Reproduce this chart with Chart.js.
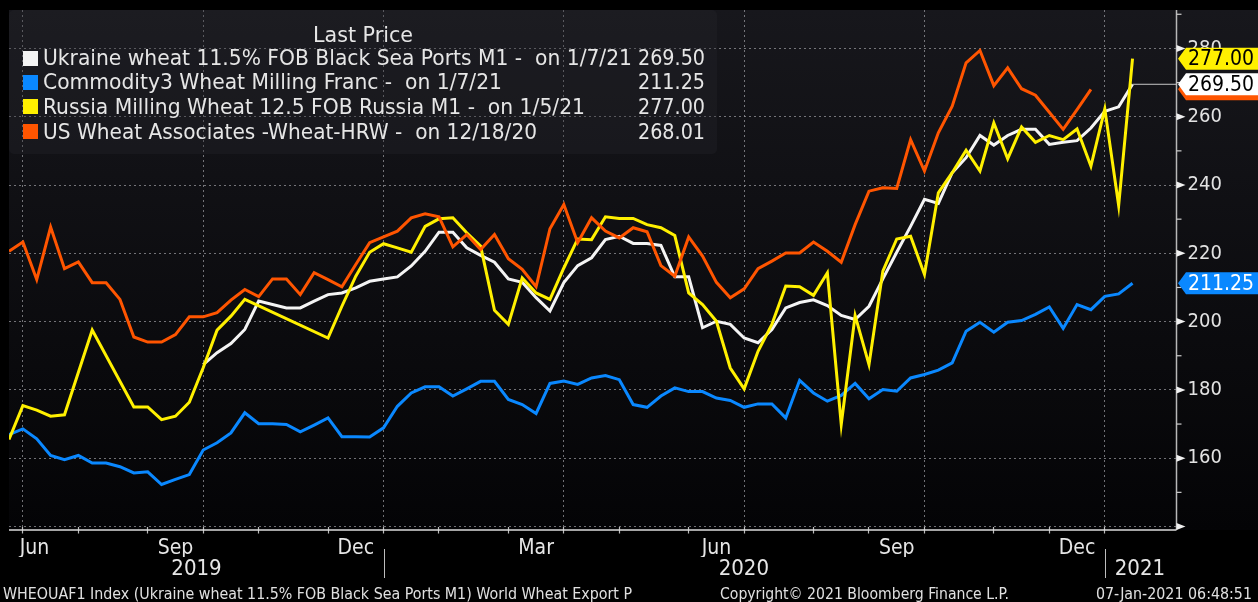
<!DOCTYPE html>
<html><head><meta charset="utf-8">
<script src="https://cdn.jsdelivr.net/npm/chart.js@4.4.1/dist/chart.umd.min.js"></script>
<style>
html,body{margin:0;padding:0;background:#000;width:1258px;height:602px;overflow:hidden;}
#wrap{position:relative;width:1258px;height:602px;}
canvas{position:absolute;left:0;top:0;}
.t{position:absolute;white-space:pre;line-height:1;font-family:"DejaVu Sans Condensed","DejaVu Sans",sans-serif;font-stretch:condensed;color:#e6e6e6;}
#legend{position:absolute;left:9px;top:10px;width:708px;height:144px;background:rgba(38,38,44,0.34);border-radius:5px;}
.sq{position:absolute;width:15px;height:15px;}
</style></head>
<body><div id="wrap"><canvas id="c" width="1258" height="602"></canvas><div id="legend"></div></div>
<script>
// ---------- DATA ----------
const weeks = (() => { const out = []; const d0 = Date.UTC(2019, 5, 28);
  for (let i = 0; i < 82; i++) out.push(new Date(d0 + i * 7 * 864e5).toISOString().slice(0, 10)); return out; })();

const ukraine = [null,null,null,null,null,null,null,null,null,null,null,null,null,null,
  187.4,190.9,193.6,197.7,206.0,205.0,
  204.0,204.0,206.0,207.9,208.4,209.9,211.8,212.5,213.1,216.3,
  220.6,226.2,226.2,221.6,219.4,217.4,212.5,211.5,207.0,203.1,
  211.4,216.4,218.7,224.0,225.0,222.9,222.9,222.3,213.1,213.1,
  198.2,200.1,199.2,195.2,193.8,197.7,204.0,205.6,206.4,204.7,
  201.8,200.6,204.5,212.5,220.3,227.9,235.8,234.6,243.6,248.0,
  254.5,251.7,254.5,256.3,256.3,251.9,252.5,253.0,256.7,261.6,
  262.9,269.5];

const france = [166.9,168.6,165.7,160.8,159.6,160.8,158.6,158.6,157.5,155.7,
  156.0,152.3,153.8,155.2,162.4,164.5,167.4,173.3,170.1,170.1,
  169.9,167.7,169.7,171.8,166.3,166.3,166.2,168.9,175.2,179.1,
  180.9,180.9,178.2,180.3,182.5,182.5,177.2,175.7,173.1,181.9,
  182.6,181.6,183.5,184.2,183.0,175.7,174.9,178.2,180.6,179.5,
  179.5,177.6,176.9,174.9,175.9,175.9,171.8,182.8,179.1,176.7,
  178.4,181.9,177.4,180.1,179.6,183.5,184.5,185.8,187.9,197.2,
  199.8,196.9,199.8,200.3,202.1,204.3,198.0,205.0,203.5,207.4,
  208.1,211.25];

const russia = [165.5,175.4,174.1,172.3,172.7,null,197.5,null,null,175.0,
  175.0,171.3,172.3,176.4,186.5,197.5,201.6,206.5,null,null,
  null,null,null,195.2,204.5,213.3,220.3,222.8,221.6,220.3,
  227.9,230.1,230.4,226.0,222.1,203.3,199.2,212.8,208.4,206.5,
  215.7,224.2,224.0,230.7,230.2,230.2,228.4,227.5,225.2,208.4,
  205.0,200.1,186.4,180.3,191.3,199.2,210.4,210.2,207.7,214.3,
  169.9,201.8,187.4,214.8,224.2,225.0,213.8,237.7,243.6,250.2,
  244.1,258.2,247.7,257.0,252.5,254.5,253.3,256.4,245.5,262.3,
  234.0,277.0];

const usHrw = [220.6,223.3,212.3,227.7,215.5,217.5,211.4,211.4,206.5,195.5,
  194.0,194.0,196.2,201.4,201.4,202.6,206.3,209.4,207.3,212.5,
  212.5,207.9,214.3,212.3,210.2,216.7,223.1,224.8,226.5,230.4,
  231.6,230.7,221.9,225.5,221.1,225.5,218.4,215.3,210.2,227.2,
  234.3,223.1,230.4,226.5,224.5,227.5,226.3,216.4,213.3,224.8,
  219.2,211.5,207.0,209.6,215.5,217.7,220.1,220.1,223.3,220.6,
  217.4,228.4,238.2,239.2,239.0,253.3,244.1,255.3,263.1,275.8,
  279.4,269.1,274.3,268.2,266.3,261.3,256.3,262.1,268.01];

const seriesNames = [
  'Ukraine wheat 11.5% FOB Black Sea Ports M1 -  on 1/7/21',
  'Commodity3 Wheat Milling Franc -  on 1/7/21',
  'Russia Milling Wheat 12.5 FOB Russia M1 -  on 1/5/21',
  'US Wheat Associates -Wheat-HRW -  on 12/18/20'];
const lastPrices = ['269.50', '211.25', '277.00', '268.01'];

const monthTickIdx = [1,5,10,14,18,23,27,31,36,40,44,49,53,58,62,66,71,75,79];
const quarterIdx = [1,14,27,40,53,66,79];
const monthLabels = ['Jun','Sep','Dec','Mar','Jun','Sep','Dec'];
const monthLabelIdx = [1.84,12,25,38,51,64,77];
const yearLabels = ['2019','2020','2021'];
const yearLabelIdx = [13.52,52.98,81.53];
const yearSepIdx = [27,79];
const yTicks = [140,160,180,200,220,240,260,280];
const yMinor = [150,170,190,210,230,250,270,290];

// ---------- STYLE ----------
const FF = '"DejaVu Sans Condensed", "DejaVu Sans", sans-serif';
const C_WHITE = '#f4f4f4', C_BLUE = '#0a88ff', C_YEL = '#fff000', C_ORG = '#ff5500';
const GRID = 'rgba(150,150,155,0.75)';
const XMAX = 84.17;

const wrap = document.getElementById('wrap');
function addText(str, o) {
  const d = document.createElement('div'); d.className = 't'; d.textContent = str;
  d.style.fontSize = o.size + 'px'; if (o.color) d.style.color = o.color;
  d.style.top = (o.yc - 0.4815 * o.size) + 'px'; d.style.left = '0px';
  wrap.appendChild(d);
  const w = d.getBoundingClientRect().width;
  const tw = o.width || w; const k = tw / w;
  const left = o.align === 'right' ? o.x - tw : o.align === 'center' ? o.x - tw / 2 : o.x;
  d.style.transformOrigin = 'left top'; d.style.transform = 'scaleX(' + k + ')';
  d.style.left = left + 'px';
}

// legend (HTML)
const sqColors = [C_WHITE, C_BLUE, C_YEL, C_ORG];
const rowY = [58, 82, 106.8, 131.3];
const nameW = [589, 459, 542, 494];
addText('Last Price', {x: 363, yc: 34.7, size: 22, align: 'center', width: 100});
rowY.forEach((yc, i) => {
  const s = document.createElement('div'); s.className = 'sq';
  s.style.left = '22.7px'; s.style.top = (yc - 7.5) + 'px'; s.style.background = sqColors[i];
  wrap.appendChild(s);
  addText(seriesNames[i], {x: 42.7, yc, size: 22, width: nameW[i]});
  addText(lastPrices[i], {x: 705, yc, size: 22, align: 'right', width: 67});
});
// footer
addText('WHEOUAF1 Index (Ukraine wheat 11.5% FOB Black Sea Ports M1) World Wheat Export P', {x: 3, yc: 594, size: 16, width: 629, color: '#e0e0e0'});
addText('Copyright\u00A9 2021 Bloomberg Finance L.P.', {x: 720, yc: 594, size: 16, width: 289, color: '#e0e0e0'});
addText('07-Jan-2021 06:48:51', {x: 1252, yc: 594, size: 16, align: 'right', width: 156, color: '#e0e0e0'});

const toXY = arr => arr.map((v, i) => ({x: i, y: v}));
const lastVal = arr => { for (let i = arr.length - 1; i >= 0; i--) if (arr[i] != null) return {i, v: arr[i]}; };

const bgPlugin = {
  id: 'bg',
  beforeDraw(chart) {
    const {ctx, width, height, chartArea: a} = chart;
    ctx.save();
    ctx.fillStyle = '#000'; ctx.fillRect(0, 0, width, height);
    const g = ctx.createLinearGradient(0, a.top, 0, 530);
    g.addColorStop(0, '#17171c'); g.addColorStop(1, '#040406');
    ctx.fillStyle = g; ctx.fillRect(a.left, a.top, width - a.left, 530 - a.top);
    ctx.restore();
  }
};

function line(ctx, x1, y1, x2, y2) { ctx.beginPath(); ctx.moveTo(x1, y1); ctx.lineTo(x2, y2); ctx.stroke(); }

const decoPlugin = {
  id: 'deco',
  afterDraw(chart) {
    const {ctx, chartArea: a, scales: {x, y}} = chart;
    const ax = a.right, by = 530;
    ctx.save();
    ctx.lineWidth = 1.5;
    ctx.strokeStyle = '#b8b8b8'; line(ctx, ax, a.top, ax, by);
    ctx.strokeStyle = '#dcdcdc'; line(ctx, a.left, by, ax, by);
    ctx.fillStyle = '#f0f0f0';
    yTicks.forEach(v => { const py = y.getPixelForValue(v);
      ctx.beginPath(); ctx.moveTo(ax, py - 3.5); ctx.lineTo(ax + 9, py); ctx.lineTo(ax, py + 3.5); ctx.closePath(); ctx.fill(); });
    ctx.strokeStyle = '#cfcfcf'; ctx.lineWidth = 1.2;
    yMinor.forEach(v => { const py = y.getPixelForValue(v); line(ctx, ax, py, ax + 5, py); });
    ctx.strokeStyle = '#bdbdbd'; ctx.lineWidth = 1;
    yearSepIdx.forEach(i => { const px = Math.round(x.getPixelForValue(i)) + 0.5; line(ctx, px, 549, px, 578); });
    const lw = lastVal(ukraine);
    const lwy = y.getPixelForValue(lw.v);
    ctx.strokeStyle = '#c8c8c8'; ctx.lineWidth = 1;
    line(ctx, x.getPixelForValue(lw.i), lwy, ax, lwy);
    const tag = (arr, fill, tcol, showText) => {
      const lv = lastVal(arr); const py = y.getPixelForValue(lv.v); const h = 22;
      ctx.beginPath(); ctx.moveTo(ax + 1.5, py); ctx.lineTo(ax + 9.5, py - h / 2); ctx.lineTo(1258, py - h / 2);
      ctx.lineTo(1258, py + h / 2); ctx.lineTo(ax + 9.5, py + h / 2); ctx.closePath();
      ctx.fillStyle = fill; ctx.fill();
      if (showText) { ctx.fillStyle = tcol; ctx.font = '21px ' + FF; ctx.textAlign = 'left'; ctx.textBaseline = 'middle';
        ctx.fillText(lv.v.toFixed(2), ax + 11.5, py + 1); }
    };
    tag(usHrw, C_ORG, '#000', false);
    tag(ukraine, '#ffffff', '#000', true);
    tag(russia, C_YEL, '#000', true);
    tag(france, C_BLUE, '#fff', true);
    ctx.restore();
  }
};

const ds = (label, arr, color, order) => ({label, data: toXY(arr), borderColor: color, backgroundColor: color,
  borderWidth: 3, pointRadius: 0, tension: 0, spanGaps: true, order, xAxisID: 'x', yAxisID: 'y'});

const noPadH = s => { s.paddingLeft = 0; s.paddingRight = 0; s.paddingTop = 0; s.paddingBottom = 0; };

new Chart(document.getElementById('c'), {
  type: 'line',
  data: { labels: weeks, datasets: [
    ds(seriesNames[3], usHrw, C_ORG, 1),
    ds(seriesNames[2], russia, C_YEL, 2),
    ds(seriesNames[1], france, C_BLUE, 3),
    ds(seriesNames[0], ukraine, C_WHITE, 4)
  ]},
  options: {
    responsive: false, animation: false, events: [],
    layout: { padding: {left: 9, top: 10, right: 0, bottom: 14} },
    plugins: { legend: {display: false}, tooltip: {enabled: false}, title: {display: false} },
    scales: {
      x: { type: 'linear', position: 'bottom', min: 0, max: XMAX, weight: 0,
        afterBuildTicks: s => { s.ticks = monthTickIdx.map(v => ({value: v})); },
        afterFit: s => { s.height = 3.5; noPadH(s); },
        grid: { color: c => (c.tick && quarterIdx.includes(c.tick.value)) ? GRID : 'rgba(0,0,0,0)',
          lineWidth: 1, drawTicks: true, tickLength: 7, tickColor: '#bdbdbd', tickWidth: 1.2 },
        border: { display: false, dash: [2, 3] },
        ticks: { display: false }
      },
      xm: { type: 'linear', position: 'bottom', min: 0, max: XMAX, weight: 1,
        afterBuildTicks: s => { s.ticks = monthLabelIdx.map(v => ({value: v})); },
        afterFit: s => { s.height = 27; noPadH(s); },
        grid: { display: false }, border: { display: false },
        ticks: { autoSkip: false, maxRotation: 0, minRotation: 0, padding: -2, color: '#e6e6e6',
          font: {family: FF, size: 21}, callback: (v, i) => monthLabels[i] }
      },
      xy: { type: 'linear', position: 'bottom', min: 0, max: XMAX, weight: 2,
        afterBuildTicks: s => { s.ticks = yearLabelIdx.map(v => ({value: v})); },
        afterFit: s => { s.height = 31; noPadH(s); },
        grid: { display: false }, border: { display: false },
        ticks: { autoSkip: false, maxRotation: 0, minRotation: 0, padding: -9, color: '#e6e6e6',
          font: {family: FF, size: 22}, callback: (v, i) => yearLabels[i] }
      },
      y: { type: 'linear', position: 'right', min: 140, max: 291.25,
        afterBuildTicks: s => { s.ticks = yTicks.map(v => ({value: v})); },
        afterFit: s => { s.width = 81.5; noPadH(s); },
        grid: { color: GRID, lineWidth: 1, drawTicks: false },
        border: { display: false, dash: [2, 3] },
        ticks: { color: '#e2e2e2', padding: 11, font: {family: FF, size: 20},
          callback: v => v === 140 ? '' : String(v) }
      }
    }
  },
  plugins: [bgPlugin, decoPlugin]
});
</script>
</body></html>
